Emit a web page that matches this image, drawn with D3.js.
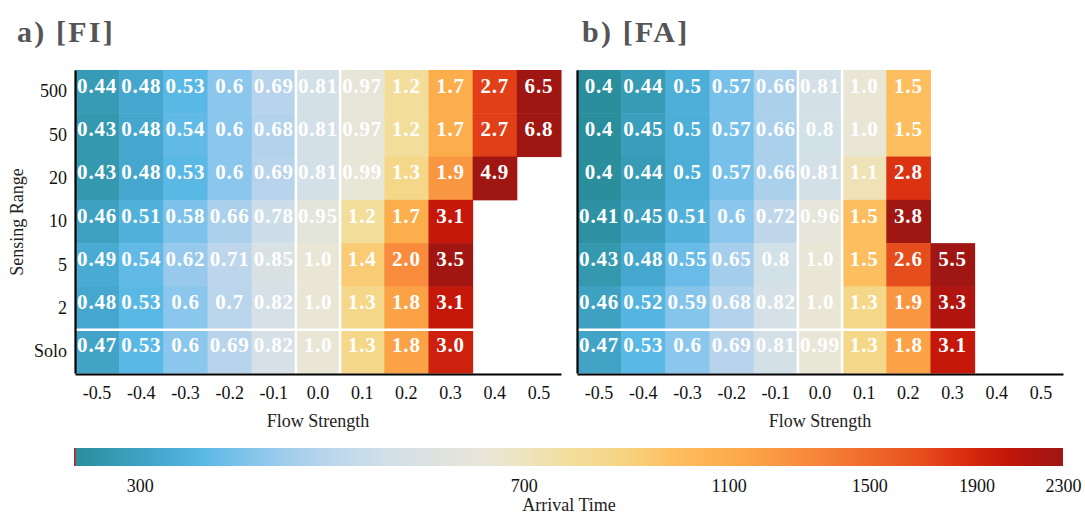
<!DOCTYPE html>
<html>
<head>
<meta charset="utf-8">
<script src="https://cdn.jsdelivr.net/npm/d3@7"></script>
<style>
  body { margin: 0; background: #fff; }
  text { font-family: "Liberation Serif", "DejaVu Serif", serif; }
</style>
</head>
<body>
<svg id="chart" width="1085" height="515"></svg>
<script>
// columns (flow strength) and rows (sensing range)
var flows = ['-0.5', '-0.4', '-0.3', '-0.2', '-0.1', '0.0', '0.1', '0.2', '0.3', '0.4', '0.5'];
var ranges = ['500', '50', '20', '10', '5', '2', 'Solo'];

// a) [FI] relative arrival time, null = no run
var fiValues = [
  [0.44, 0.48, 0.53, 0.6, 0.69, 0.81, 0.97, 1.2, 1.7, 2.7, 6.5],
  [0.43, 0.48, 0.54, 0.6, 0.68, 0.81, 0.97, 1.2, 1.7, 2.7, 6.8],
  [0.43, 0.48, 0.53, 0.6, 0.69, 0.81, 0.99, 1.3, 1.9, 4.9, null],
  [0.46, 0.51, 0.58, 0.66, 0.78, 0.95, 1.2, 1.7, 3.1, null, null],
  [0.49, 0.54, 0.62, 0.71, 0.85, 1.0, 1.4, 2.0, 3.5, null, null],
  [0.48, 0.53, 0.6, 0.7, 0.82, 1.0, 1.3, 1.8, 3.1, null, null],
  [0.47, 0.53, 0.6, 0.69, 0.82, 1.0, 1.3, 1.8, 3.0, null, null]
];

// b) [FA]
var faValues = [
  [0.4, 0.44, 0.5, 0.57, 0.66, 0.81, 1.0, 1.5, null, null, null],
  [0.4, 0.45, 0.5, 0.57, 0.66, 0.8, 1.0, 1.5, null, null, null],
  [0.4, 0.44, 0.5, 0.57, 0.66, 0.81, 1.1, 2.8, null, null, null],
  [0.41, 0.45, 0.51, 0.6, 0.72, 0.96, 1.5, 3.8, null, null, null],
  [0.43, 0.48, 0.55, 0.65, 0.8, 1.0, 1.5, 2.6, 5.5, null, null],
  [0.46, 0.52, 0.59, 0.68, 0.82, 1.0, 1.3, 1.9, 3.3, null, null],
  [0.47, 0.53, 0.6, 0.69, 0.81, 0.99, 1.3, 1.8, 3.1, null, null]
];

// colorbar (arrival time, log scale)
var barTicks = [300, 700, 1100, 1500, 1900, 2300];
var barDomain = [260, 2300];
var unitTime = 650; // arrival time of a relative value of 1

// colormap stops along the bar
var stopPos = [0, 0.08, 0.13, 0.19, 0.25, 0.32, 0.42, 0.5, 0.55, 0.61, 0.67, 0.74, 0.8, 0.86, 0.9, 0.94, 0.97, 1];
var stopCol = ['#2a8e9c', '#43a6cb', '#5ab8e5', '#8fc7ec', '#b8d4ec', '#d3e0e8', '#e9e6d6', '#f2df9c', '#f6d585',
  '#fdbd5d', '#fcab4a', '#f88a3c', '#f06c2c', '#e64c1c', '#d92c10', '#c5180b', '#ae1510', '#a01612'];

(function() {
  var svg = d3.select('#chart');

  var logT = d3.scaleLog().domain(barDomain).range([0, 1]).clamp(true);
  var cmap = d3.scaleLinear().domain(stopPos).range(stopCol).interpolate(d3.interpolateRgb).clamp(true);
  function cellColor(v) { return cmap(logT(v * unitTime)); }

  var fmtSmall = d3.format('.2'), fmtBig = d3.format('.1f');
  function label(v) { return v < 1 ? fmtSmall(v) : fmtBig(v); }

  var gridTop = 70, gridBottom = 373, gridW = 486;

  var panels = [
    {title: 'a) [FI]', values: fiValues, x0: 75, tx: 17},
    {title: 'b) [FA]', values: faValues, x0: 577, tx: 582}
  ];

  panels.forEach(function(p, pi) {
    var g = svg.append('g');
    var x = d3.scaleBand().domain(flows).range([p.x0, p.x0 + gridW]);
    var y = d3.scaleBand().domain(ranges).range([gridTop, gridBottom]);

    var cells = [];
    p.values.forEach(function(row, i) {
      row.forEach(function(v, j) {
        if (v != null) cells.push({r: ranges[i], c: flows[j], v: v});
      });
    });

    g.selectAll('rect.cell')
      .data(cells)
      .enter()
        .append('rect')
        .attr('class', 'cell')
        .attr('x', function(d) { return x(d.c); })
        .attr('y', function(d) { return y(d.r); })
        .attr('width', x.bandwidth() + 0.5)
        .attr('height', y.bandwidth() + 0.5)
        .attr('fill', function(d) { return cellColor(d.v); });

    g.selectAll('text.val')
      .data(cells)
      .enter()
        .append('text')
        .attr('class', 'val')
        .attr('x', function(d) { return x(d.c) + x.bandwidth() / 2; })
        .attr('y', function(d) { return y(d.r) + y.bandwidth() / 2 + 1; })
        .attr('text-anchor', 'middle')
        .attr('fill', '#fff')
        .attr('font-weight', 'bold')
        .attr('font-size', '21px')
        .attr('letter-spacing', '0.8px')
        .text(function(d) { return label(d.v); });

    // white separators around the zero-flow column and above Solo
    var zx = x('0.0');
    [zx, zx + x.bandwidth()].forEach(function(lx) {
      g.append('line').attr('x1', lx).attr('x2', lx).attr('y1', gridTop).attr('y2', gridBottom + 1)
        .attr('stroke', '#fff').attr('stroke-width', 2.5);
    });
    g.append('line').attr('x1', p.x0).attr('x2', p.x0 + gridW)
      .attr('y1', y('Solo')).attr('y2', y('Solo'))
      .attr('stroke', '#fff').attr('stroke-width', 2.5);

    // axes
    var xa = g.append('g').attr('transform', 'translate(0,' + (gridBottom + 1) + ')')
      .call(d3.axisBottom(x).tickSize(0).tickSizeOuter(0).tickPadding(12));
    xa.select('.domain').attr('stroke', '#000').attr('stroke-width', 2.2);
    xa.selectAll('text').attr('font-size', '18px').attr('fill', '#111')
      .style('font-family', '"Liberation Serif", serif');

    var ya = g.append('g').attr('transform', 'translate(' + p.x0 + ',0)')
      .call(d3.axisLeft(y).tickSize(0).tickSizeOuter(0).tickPadding(8));
    ya.select('.domain').attr('stroke', '#000').attr('stroke-width', 2.2);
    if (pi === 1) ya.selectAll('.tick').remove();
    ya.selectAll('text').attr('font-size', '18px').attr('fill', '#111')
      .style('font-family', '"Liberation Serif", serif');

    g.append('text')
      .attr('x', p.x0 + gridW / 2)
      .attr('y', 427)
      .attr('text-anchor', 'middle')
      .attr('font-size', '18px')
      .attr('fill', '#222')
      .text('Flow Strength');

    g.append('text')
      .attr('x', p.tx)
      .attr('y', 42)
      .attr('font-size', '30px')
      .attr('font-weight', 'bold')
      .attr('letter-spacing', '2.2px')
      .attr('fill', '#555')
      .text(p.title);
  });

  svg.append('text')
    .attr('transform', 'translate(23,222) rotate(-90)')
    .attr('text-anchor', 'middle')
    .attr('font-size', '18px')
    .attr('fill', '#222')
    .text('Sensing Range');

  // colorbar
  var barX = d3.scaleLog().domain(barDomain).range([75, 1063]);
  var grad = svg.append('defs').append('linearGradient').attr('id', 'cbar');
  d3.range(0, 1.0001, 0.02).forEach(function(t) {
    grad.append('stop').attr('offset', (t * 100) + '%').attr('stop-color', cmap(t));
  });
  svg.append('rect')
    .attr('x', 75).attr('y', 448).attr('width', 988).attr('height', 18)
    .attr('fill', 'url(#cbar)');
  svg.append('rect')
    .attr('x', 74).attr('y', 448).attr('width', 1.5).attr('height', 18)
    .attr('fill', '#c0201a');

  var ca = svg.append('g').attr('transform', 'translate(0,466)')
    .call(d3.axisBottom(barX).tickValues(barTicks).tickFormat(d3.format('d')).tickSize(0).tickPadding(13));
  ca.select('.domain').remove();
  ca.selectAll('text').attr('font-size', '18px').attr('fill', '#111')
    .style('font-family', '"Liberation Serif", serif');

  svg.append('text')
    .attr('x', 569)
    .attr('y', 511)
    .attr('text-anchor', 'middle')
    .attr('font-size', '18px')
    .attr('fill', '#222')
    .text('Arrival Time');
})();
</script>
</body>
</html>
